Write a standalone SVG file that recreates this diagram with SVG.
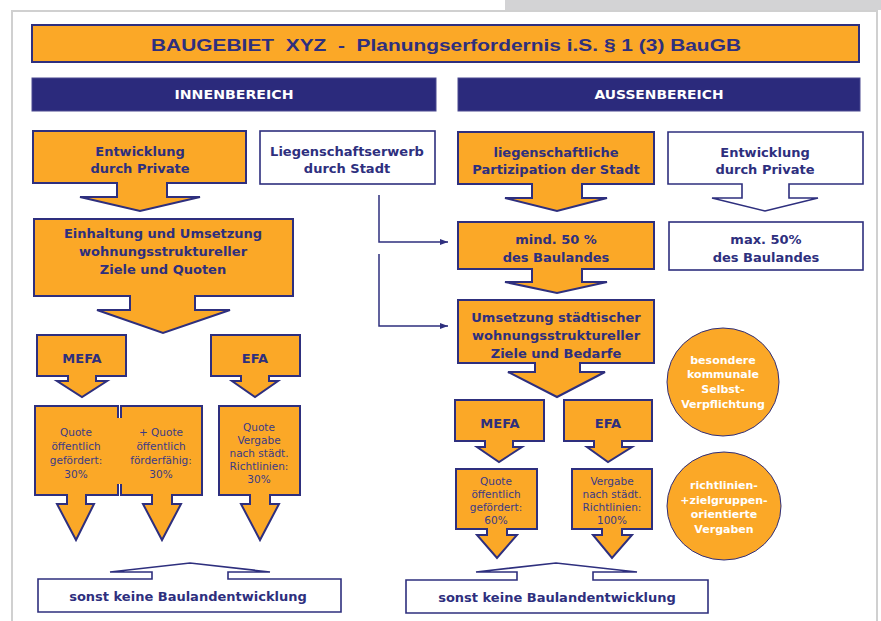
<svg xmlns="http://www.w3.org/2000/svg" width="881" height="621" viewBox="0 0 881 621">
<defs>
<marker id="ah" viewBox="0 0 8 8" refX="8" refY="4" markerWidth="8" markerHeight="8" markerUnits="userSpaceOnUse" orient="auto"><path d="M0,1 L8,4 L0,7 Z" fill="#2E2F7E"/></marker>
</defs>
<style>
.o{fill:#FBA827;stroke:#2E2F7E;stroke-width:2}
.w{fill:#fff;stroke:#2E2F7E;stroke-width:1.6}
.bar{fill:#2B2A7C;stroke:#4A4990;stroke-width:1}
.t{font-family:"DejaVu Sans",sans-serif;font-weight:bold;font-size:13px;fill:#2E2F7E;text-anchor:middle}
.q{font-family:"DejaVu Sans",sans-serif;font-size:10.5px;fill:#3A3A86;text-anchor:middle}
.c{font-family:"DejaVu Sans",sans-serif;font-weight:bold;font-size:11px;fill:#fff;text-anchor:middle}
.h{font-family:"DejaVu Sans",sans-serif;font-weight:bold;font-size:12px;fill:#fff;text-anchor:middle}
.ln{fill:none;stroke:#2E2F7E;stroke-width:1.5}
</style>
<rect x="0" y="0" width="881" height="621" fill="#fff"/>
<rect x="505" y="0" width="376" height="10" fill="#D3D3D5"/>
<path d="M12,621 V11 H877 V621" fill="none" stroke="#D0D0D0" stroke-width="2"/>

<g id="title">
<rect x="32" y="25" width="827" height="37" class="o" stroke-width="2.5"/>
<text x="446" y="51" font-family="Liberation Sans, sans-serif" font-weight="bold" font-size="17" fill="#2E2F7E" text-anchor="middle" textLength="590" lengthAdjust="spacingAndGlyphs" xml:space="preserve">BAUGEBIET  XYZ  -  Planungserfordernis i.S. § 1 (3) BauGB</text>
</g>
<g id="innen">
<rect x="32" y="78" width="404" height="33" class="bar"/>
<text x="234" y="99" class="h" textLength="119" lengthAdjust="spacingAndGlyphs">INNENBEREICH</text>
</g>
<g id="aussen">
<rect x="458" y="78" width="402" height="33" class="bar"/>
<text x="659" y="99" class="h" textLength="129" lengthAdjust="spacingAndGlyphs">AUSSENBEREICH</text>
</g>

<g id="l-private">
<path class="o" d="M33,131 H246 V183 H167 V197 H200 L140,211 L80,197 H117 V183 H33 Z"/>
<text class="t" x="140" y="156">Entwicklung</text>
<text class="t" x="140" y="173">durch Private</text>
</g>
<g id="l-erwerb">
<rect class="w" x="260" y="131" width="175" height="53"/>
<text class="t" x="347" y="156">Liegenschaftserwerb</text>
<text class="t" x="347" y="173">durch Stadt</text>
</g>
<g id="l-einhaltung">
<path class="o" d="M34,219 H293 V296 H195 V310 H230 L163,333 L97,310 H130 V296 H34 Z"/>
<text class="t" x="163" y="238">Einhaltung und Umsetzung</text>
<text class="t" x="163" y="256">wohnungsstruktureller</text>
<text class="t" x="163" y="274">Ziele und Quoten</text>
</g>
<g id="l-mefa">
<path class="o" d="M37,335 H126 V376 H96 V381 H107 L82,397 L57,381 H68 V376 H37 Z"/>
<text class="t" x="82" y="363">MEFA</text>
</g>
<g id="l-efa">
<path class="o" d="M211,335 H300 V376 H269 V381 H278 L255,397 L232,381 H241 V376 H211 Z"/>
<text class="t" x="255" y="363">EFA</text>
</g>
<g id="l-quote1">
<path class="o" d="M35,406 H118 V495 H86 V504 H94 L76,540 L57,504 H67 V495 H35 Z"/>
</g>
<g id="l-quote2">
<path class="o" d="M121,406 H202 V495 H172 V504 H181 L162,540 L143,504 H152 V495 H121 Z"/>
<rect x="116" y="418" width="7" height="66" fill="#FBA827"/>
<text class="q" x="76" y="436">Quote</text>
<text class="q" x="76" y="450">öffentlich</text>
<text class="q" x="76" y="464">gefördert:</text>
<text class="q" x="76" y="478">30%</text>
<text class="q" x="161" y="436">+ Quote</text>
<text class="q" x="161" y="450">öffentlich</text>
<text class="q" x="161" y="464">förderfähig:</text>
<text class="q" x="161" y="478">30%</text>
</g>
<g id="l-quote3">
<path class="o" d="M219,406 H300 V495 H270 V504 H279 L260,540 L241,504 H250 V495 H219 Z"/>
<text class="q" x="259" y="431">Quote</text>
<text class="q" x="259" y="444">Vergabe</text>
<text class="q" x="259" y="457">nach städt.</text>
<text class="q" x="259" y="470">Richtlinien:</text>
<text class="q" x="259" y="483">30%</text>
</g>
<g id="l-sonst">
<path class="w" d="M38,579 H152 V572 H110 L190,563 L270,572 H228 V579 H341 V612 H38 Z"/>
<text class="t" x="188" y="601">sonst keine Baulandentwicklung</text>
</g>

<g id="r-partizipation">
<path class="o" d="M458,132 H654 V184 H582 V198 H607 L557,211 L505,198 H532 V184 H458 Z"/>
<text class="t" x="556" y="157">liegenschaftliche</text>
<text class="t" x="556" y="174">Partizipation der Stadt</text>
</g>
<g id="r-private">
<path class="w" d="M668,132 H863 V184 H789 V198 H818 L765,211 L712,198 H742 V184 H668 Z"/>
<text class="t" x="765" y="157">Entwicklung</text>
<text class="t" x="765" y="174">durch Private</text>
</g>
<g id="r-mind">
<path class="o" d="M458,222 H654 V269 H582 V282 H607 L557,293 L505,282 H532 V269 H458 Z"/>
<text class="t" x="556" y="244">mind. 50 %</text>
<text class="t" x="556" y="262">des Baulandes</text>
</g>
<g id="r-max">
<rect class="w" x="669" y="222" width="194" height="48"/>
<text class="t" x="766" y="244">max. 50%</text>
<text class="t" x="766" y="262">des Baulandes</text>
</g>
<g id="r-umsetzung">
<path class="o" d="M458,300 H654 V363 H580 V372 H605 L557,397 L508,372 H535 V363 H458 Z"/>
<text class="t" x="556" y="322">Umsetzung städtischer</text>
<text class="t" x="556" y="340">wohnungsstruktureller</text>
<text class="t" x="556" y="358">Ziele und Bedarfe</text>
</g>
<g id="r-mefa">
<path class="o" d="M455,400 H544 V441 H513 V447 H522 L499,462 L477,447 H485 V441 H455 Z"/>
<text class="t" x="500" y="428">MEFA</text>
</g>
<g id="r-efa">
<path class="o" d="M564,400 H652 V441 H622 V447 H632 L608,462 L587,447 H594 V441 H564 Z"/>
<text class="t" x="608" y="428">EFA</text>
</g>
<g id="r-quote1">
<path class="o" d="M456,469 H537 V529 H507 V535 H517 L497,558 L477,535 H487 V529 H456 Z"/>
<text class="q" x="496" y="485">Quote</text>
<text class="q" x="496" y="498">öffentlich</text>
<text class="q" x="496" y="511">gefördert:</text>
<text class="q" x="496" y="524">60%</text>
</g>
<g id="r-quote2">
<path class="o" d="M572,469 H652 V529 H622 V535 H632 L612,558 L593,535 H602 V529 H572 Z"/>
<text class="q" x="612" y="485">Vergabe</text>
<text class="q" x="612" y="498">nach städt.</text>
<text class="q" x="612" y="511">Richtlinien:</text>
<text class="q" x="612" y="524">100%</text>
</g>
<g id="r-selbst">
<ellipse cx="723" cy="382" rx="56" ry="54" fill="#FBA827" stroke="#2E2F7E" stroke-width="1"/>
<text class="c" x="723" y="364">besondere</text>
<text class="c" x="723" y="378">kommunale</text>
<text class="c" x="723" y="393">Selbst-</text>
<text class="c" x="723" y="408">Verpflichtung</text>
</g>
<g id="r-vergaben">
<ellipse cx="724" cy="506" rx="57" ry="54" fill="#FBA827" stroke="#2E2F7E" stroke-width="1"/>
<text class="c" x="724" y="489">richtlinien-</text>
<text class="c" x="724" y="504">+zielgruppen-</text>
<text class="c" x="724" y="518">orientierte</text>
<text class="c" x="724" y="533">Vergaben</text>
</g>
<g id="r-sonst">
<path class="w" d="M406,580 H517 V572 H476 L556,563 L637,572 H593 V580 H708 V613 H406 Z"/>
<text class="t" x="557" y="602">sonst keine Baulandentwicklung</text>
</g>

<g id="connectors">
<path class="ln" d="M379,195 V242 H448" marker-end="url(#ah)"/>
<path class="ln" d="M379,254 V326 H448" marker-end="url(#ah)"/>
</g>
</svg>
